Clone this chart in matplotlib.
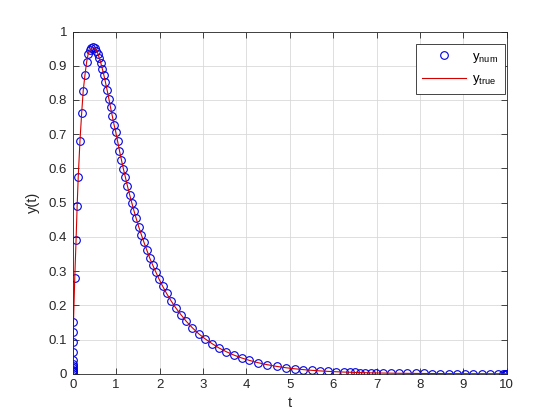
import matplotlib
matplotlib.use('Agg')
import matplotlib.pyplot as plt

# valeurs
t = [0, 0.0002, 0.0005, 0.0008, 0.0012, 0.0017, 0.0025, 0.0035, 0.005, 0.0075,
     0.011, 0.016, 0.045, 0.075, 0.1, 0.125, 0.165, 0.205, 0.24, 0.28,
     0.32, 0.355, 0.39, 0.43, 0.47, 0.51, 0.545, 0.58, 0.61, 0.645,
     0.68, 0.715, 0.75, 0.79, 0.83, 0.87, 0.91, 0.95, 0.99, 1.03,
     1.075, 1.12, 1.165, 1.21, 1.26, 1.31, 1.36, 1.41, 1.46, 1.52,
     1.58, 1.64, 1.70, 1.77, 1.84, 1.91, 1.99, 2.07, 2.16, 2.26,
     2.37, 2.49, 2.61, 2.75, 2.90, 3.05, 3.21, 3.37, 3.54, 3.71,
     3.89, 4.07, 4.27, 4.48, 4.70, 4.91, 5.11, 5.31, 5.50, 5.69,
     5.88, 6.07, 6.26, 6.38, 6.50, 6.62, 6.74, 6.86, 6.98, 7.14,
     7.33, 7.52, 7.71, 7.90, 8.09, 8.28, 8.47, 8.66, 8.85, 9.04,
     9.23, 9.42, 9.61, 9.80, 9.92, 9.96, 9.98, 9.99, 10.0]

y_num = [0, 0.004, 0.008, 0.012, 0.017, 0.023, 0.03, 0.04, 0.064, 0.094,
         0.123, 0.152, 0.28, 0.39, 0.49, 0.575, 0.68, 0.763, 0.827, 0.873,
         0.912, 0.935, 0.945, 0.951, 0.954, 0.951, 0.944, 0.935, 0.922, 0.908,
         0.891, 0.873, 0.853, 0.829, 0.804, 0.778, 0.753, 0.728, 0.706, 0.681,
         0.652, 0.625, 0.599, 0.575, 0.548, 0.523, 0.499, 0.476, 0.454, 0.429,
         0.406, 0.384, 0.363, 0.339, 0.318, 0.298, 0.276, 0.256, 0.235, 0.214,
         0.193, 0.173, 0.154, 0.135, 0.117, 0.102, 0.088, 0.0753, 0.0643, 0.0548,
         0.0463, 0.0391, 0.0324, 0.0266, 0.0216, 0.0177, 0.0147, 0.0122, 0.0102, 0.0085,
         0.0071, 0.0060, 0.0050, 0.0045, 0.0040, 0.0035, 0.0032, 0.0028, 0.0025, 0.0022,
         0.0018, 0.0015, 0.0013, 0.0011, 0.0009, 0.00075, 0.00063, 0.00053, 0.00044, 0.00037,
         0.00031, 0.00026, 0.00021, 0.00018, 0.00016, 0.00015, 0.00015, 0.00015, 0.00015]

y_true = list(y_num)

x_ticks = list(range(0, 11))
y_ticks = [i / 10 for i in range(0, 11)]

plt.rcParams['font.family'] = ['Liberation Sans', 'DejaVu Sans']
plt.rcParams['mathtext.fontset'] = 'custom'
plt.rcParams['mathtext.rm'] = 'Liberation Sans'
plt.rcParams['mathtext.it'] = 'Liberation Sans'

fig = plt.figure(figsize=(5.6, 4.2), dpi=100)
ax = fig.add_axes([0.13, 0.11, 0.775, 0.815])

ax.plot(t, y_num, 'o', markersize=5.5, markerfacecolor='none',
        markeredgecolor='#0000e0', markeredgewidth=0.8, label=r'$\mathregular{y_{num}}$')
ax.plot(t, y_true, '-', color='#d40000', linewidth=0.8, label=r'$\mathregular{y_{true}}$')

ax.set_xlim(0, 10)
ax.set_ylim(0, 1)
ax.set_xticks(x_ticks)
ax.set_yticks(y_ticks)
ax.set_yticklabels(['0'] + [f'{v:g}' for v in y_ticks[1:]])

#grille et cadre a la maniere de matlab
ax.grid(True, color='#d9d9d9', linewidth=0.6)
ax.set_axisbelow(True)
for s in ax.spines.values():
    s.set_color('#262626')
    s.set_linewidth(0.6)
ax.tick_params(direction='in', length=4, width=0.6, colors='#262626',
               top=True, right=True, labelsize=9.5, pad=4)

ax.set_xlabel('t', fontsize=10.5, color='#262626', labelpad=3)
ax.set_ylabel('y(t)', fontsize=10.5, color='#262626', labelpad=6)

leg = ax.legend(loc='upper right', bbox_to_anchor=(0.996, 0.963), borderaxespad=0,
                fontsize=9.5, fancybox=False, framealpha=1, edgecolor='#262626',
                handlelength=3.3, handletextpad=0.5, borderpad=0.5, labelspacing=0.6)
leg.get_frame().set_linewidth(0.6)

fig.savefig('out.png', dpi=100)
